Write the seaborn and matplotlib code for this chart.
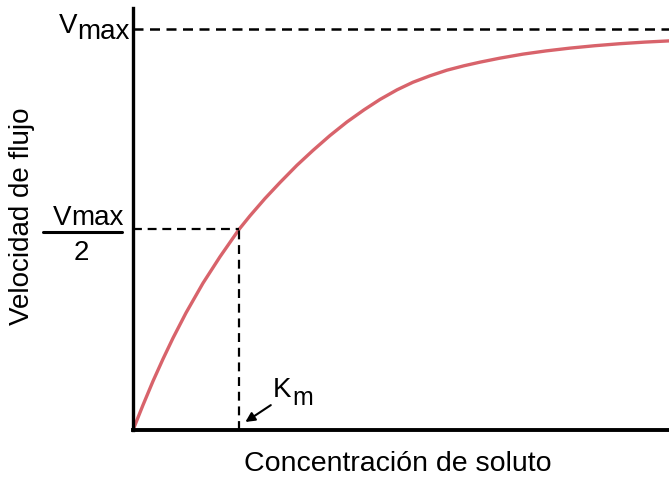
import matplotlib
matplotlib.use("Agg")
import matplotlib.pyplot as plt
import seaborn as sns
import pandas as pd

# Flux rate vs. solute concentration (Km = 1, Vmax = 1 in arbitrary units)
concentracion = [0.0, 0.094, 0.189, 0.283, 0.377, 0.50, 0.66, 0.821, 1.00,
                 1.104, 1.245, 1.387, 1.547, 1.698, 1.858, 2.019, 2.179,
                 2.33, 2.491, 2.642, 2.802, 2.962, 3.123, 3.274, 3.462,
                 3.679, 3.896, 4.123, 4.358, 4.594, 4.83, 5.057]
velocidad = [0.0, 0.062, 0.122, 0.177, 0.229, 0.292, 0.366, 0.432, 0.50,
             0.534, 0.577, 0.617, 0.66, 0.697, 0.734, 0.768, 0.798,
             0.824, 0.848, 0.867, 0.883, 0.897, 0.908, 0.917, 0.927,
             0.937, 0.945, 0.952, 0.958, 0.963, 0.967, 0.970]
km = 1.0
vmax = 1.0

x_label = "Concentración de soluto"
y_label = "Velocidad de flujo"

W, H = 669, 479
sns.set_theme(style="white")
plt.rcParams["font.family"] = ["Liberation Sans", "DejaVu Sans"]
plt.rcParams["text.color"] = "black"

fig = plt.figure(figsize=(W / 100, H / 100), dpi=100)
ax = fig.add_axes([133 / W, 49 / H, 536 / W, 422 / H])

df = pd.DataFrame({"S": concentracion, "v": velocidad})
sns.lineplot(data=df, x="S", y="v", ax=ax, color="#d8636b", linewidth=2.4,
             solid_capstyle="round", solid_joinstyle="round", sort=False)

dash = (0, (4.0, 2.6))
ax.plot([0, 5.06], [vmax, vmax], color="black", lw=1.8, linestyle=dash)
ax.plot([0, km], [vmax / 2, vmax / 2], color="black", lw=1.6, linestyle=dash)
ax.plot([km, km], [0, vmax / 2], color="black", lw=1.6, linestyle=dash)

ax.set_xlim(0, 5.057)
ax.set_ylim(0, 1.052)
ax.set_xticks([])
ax.set_yticks([])
ax.set_xlabel("")
ax.set_ylabel("")
for side in ("top", "right"):
    ax.spines[side].set_visible(False)
ax.spines["left"].set_linewidth(2.4)
ax.spines["bottom"].set_linewidth(2.8)
ax.spines["left"].set_color("black")
ax.spines["bottom"].set_color("black")


def fxy(x, y):
    return x / W, 1 - y / H


fs = 20
# axis titles
fig.text(*fxy(398, 464), x_label, fontsize=fs + 0.5, ha="center", va="center")
fig.text(*fxy(22, 216), y_label, fontsize=fs, ha="center", va="center",
         rotation=90)

# Vmax label
fig.text(*fxy(77, 33), "V", fontsize=fs, ha="right", va="baseline")
fig.text(*fxy(77, 39), "max", fontsize=fs, ha="left", va="baseline")

# Vmax / 2 label
fig.text(*fxy(71, 225), "V", fontsize=fs, ha="right", va="baseline")
fig.text(*fxy(71, 225), "max", fontsize=fs, ha="left", va="baseline")
fig.add_artist(plt.Line2D([43 / W, 122 / W], [1 - 232 / H, 1 - 232 / H],
                          color="black", lw=2.2, transform=fig.transFigure))
fig.text(*fxy(81, 260), "2", fontsize=fs, ha="center", va="baseline")

# Km label with arrow
fig.text(*fxy(273, 397), "K", fontsize=fs, ha="left", va="baseline")
fig.text(*fxy(292, 405), "m", fontsize=fs - 2, ha="left", va="baseline")
ax.annotate("", xy=(km + 0.06, 0.02), xytext=(1.30, 0.062),
            arrowprops=dict(arrowstyle="-|>", color="black", lw=1.5,
                            mutation_scale=14, shrinkA=0, shrinkB=0))

fig.savefig("out.png", dpi=100)
